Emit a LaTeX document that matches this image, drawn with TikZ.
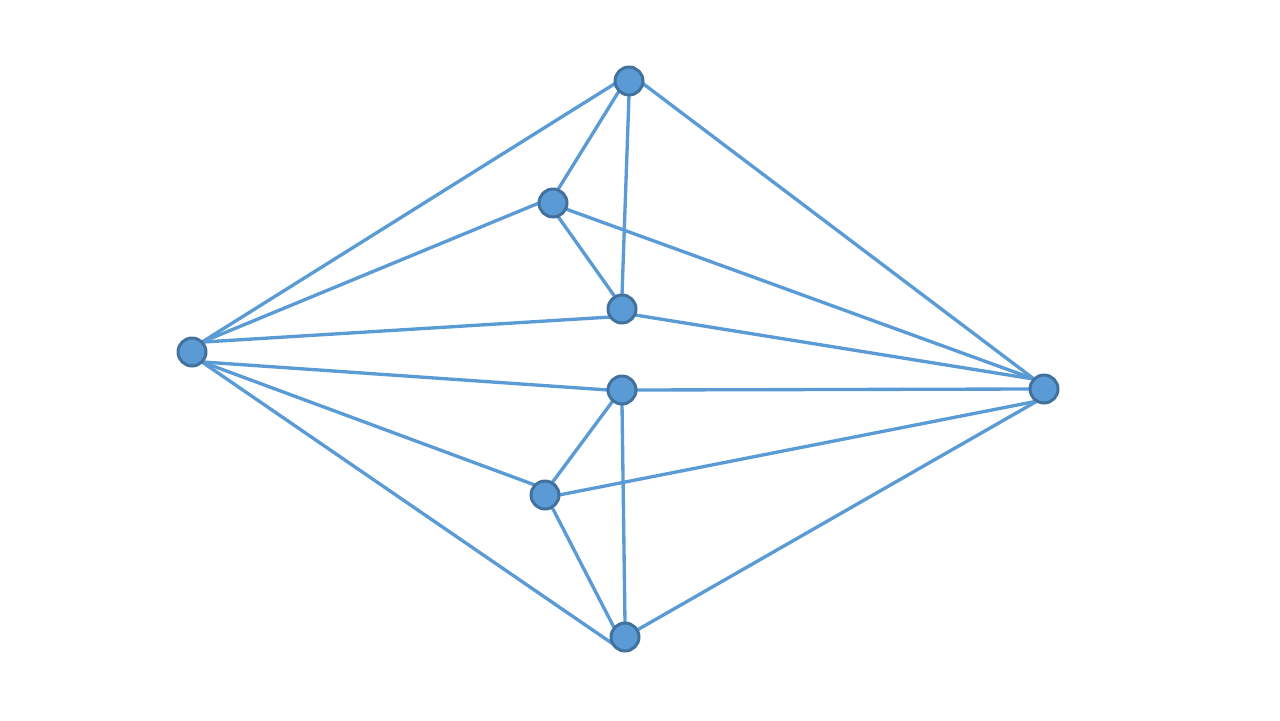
\documentclass[tikz,border=0pt]{standalone}
\usetikzlibrary{backgrounds}
\definecolor{edgeblue}{HTML}{5B9BD5}
\definecolor{rimblue}{HTML}{41719C}
\tikzset{
  vtx/.style={circle,fill=edgeblue,draw=rimblue,line width=1.7pt,minimum size=0.56cm,inner sep=0pt,outer sep=0pt},
  edge/.style={draw=edgeblue,line width=1.9pt}
}
\begin{document}
\begin{tikzpicture}[x=0.02cm,y=-0.02cm]
\useasboundingbox (0,0) rectangle (1280,720);
\node[vtx] (T) at (629,81) {};
\node[vtx] (A) at (553,203) {};
\node[vtx] (B) at (622,309) {};
\node[vtx] (L) at (192,352) {};
\node[vtx] (R) at (1044,389) {};
\node[vtx] (C) at (622,390) {};
\node[vtx] (D) at (545,495) {};
\node[vtx] (Bo) at (625,637) {};
\begin{scope}[on background layer]
\draw[edge] (T.190) -- (L.45);
\draw[edge] (T.225) -- (A.70);
\draw[edge] (T.270) -- (B.90);
\draw[edge] (T.-10) -- (R.135);
\draw[edge] (A.180) -- (L.45);
\draw[edge] (A.-70) -- (B.120);
\draw[edge] (A.-25) -- (R.135);
\draw[edge] (B.215) -- (L.45);
\draw[edge] (B.-25) -- (R.135);
\draw[edge] (L.-45) -- (C.180);
\draw[edge] (L.-45) -- (D.135);
\draw[edge] (L.-45) -- (Bo.262);
\draw[edge] (C.0) -- (R.180);
\draw[edge] (C.230) -- (D.60);
\draw[edge] (C.270) -- (Bo.90);
\draw[edge] (D.0) -- (R.240);
\draw[edge] (D.-60) -- (Bo.140);
\draw[edge] (Bo.30) -- (R.240);
\end{scope}
\end{tikzpicture}
\end{document}
